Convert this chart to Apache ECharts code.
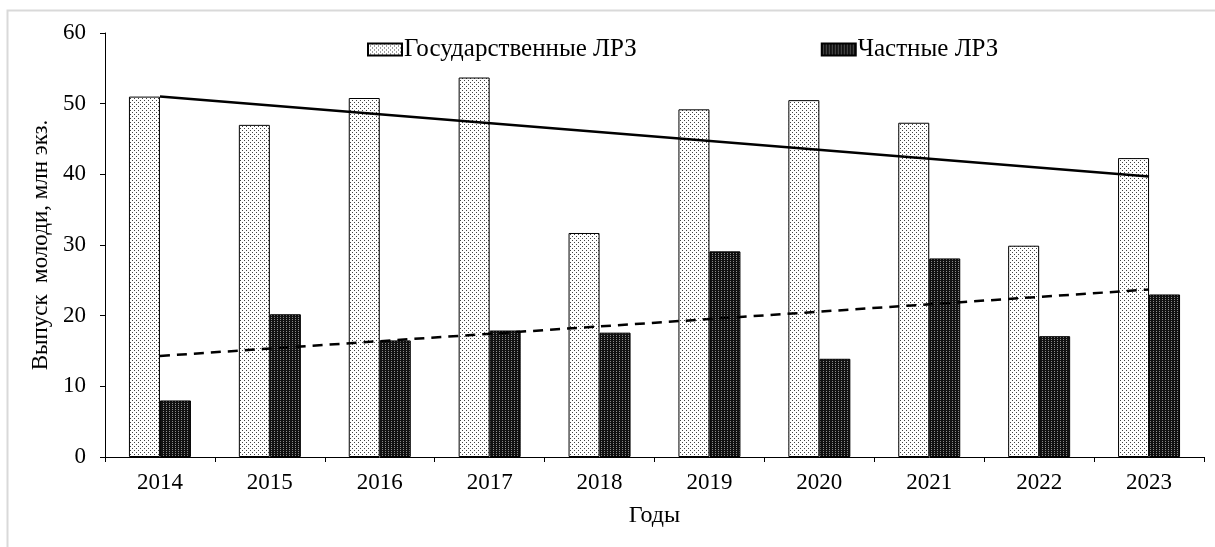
<!DOCTYPE html>
<html>
	<head>
		<meta charset="utf-8">
		<title>Выпуск молоди</title>
		<script src="https://cdn.jsdelivr.net/npm/echarts@6/dist/echarts.min.js"></script>
		<style>
			html, body { margin: 0; padding: 0; background: #fff; }
		</style>
	</head>
	<body>
		<div id="main" style="width: 1215px;height:547px;"></div>
		<script type="text/javascript">
			// данные
			var years = ['2014', '2015', '2016', '2017', '2018', '2019', '2020', '2021', '2022', '2023'];
			var stateVals = [51.0, 47.0, 50.8, 53.7, 31.7, 49.2, 50.5, 47.3, 29.9, 42.3];
			var privateVals = [8.0, 20.2, 16.5, 17.9, 17.6, 29.1, 13.9, 28.1, 17.1, 23.0];
			// линии тренда: значения на концах
			var stateTrend = [51.0, null, null, null, null, null, null, null, null, 39.7];
			var privateTrend = [14.3, null, null, null, null, null, null, null, null, 23.7];
			var yTicks = [0, 10, 20, 30, 40, 50, 60];

			// штриховки
			function dotPattern(bg, fg, w, h, dots) {
				var c = document.createElement('canvas');
				c.width = w;
				c.height = h;
				var ctx = c.getContext('2d');
				ctx.fillStyle = bg;
				ctx.fillRect(0, 0, w, h);
				ctx.fillStyle = fg;
				dots.forEach(function (d) { ctx.fillRect(d[0], d[1], 1, 1); });
				return c;
			}
			var lightFill = { image: dotPattern('#ffffff', '#444444', 4, 4, [[0, 0], [2, 2]]), repeat: 'repeat' };
			var darkFill = { image: dotPattern('#111111', '#8a8a8a', 3, 2, [[1, 1]]), repeat: 'repeat' };

			var font = '"Liberation Serif", "Times New Roman", serif';
			var myChart = echarts.init(document.getElementById('main'));

			option = {
				backgroundColor: '#fff',
				animation: false,
				textStyle: { fontFamily: font, color: '#000' },
				graphic: [{
					type: 'polyline',
					shape: { points: [[7.5, 547], [7.5, 10.5], [1215, 10.5]] },
					style: { stroke: '#d9d9d9', lineWidth: 2, fill: null },
				}],
				legend: {
					top: 32,
					left: 362,
					itemGap: 184,
					itemWidth: 34,
					itemHeight: 12,
					textStyle: { fontFamily: font, fontSize: 25, color: '#000', padding: [0, 0, 0, -3] },
					data: [
						{ name: 'Государственные ЛРЗ', icon: 'rect' },
						{ name: 'Частные ЛРЗ', icon: 'rect' },
					],
				},
				grid: {
					left: 105,
					right: 11,
					top: 33,
					bottom: 90,
				},
				xAxis: {
					type: 'category',
					data: years,
					name: 'Годы',
					nameLocation: 'middle',
					nameGap: 47,
					nameTextStyle: { fontFamily: font, fontSize: 24, color: '#000' },
					axisLine: { lineStyle: { color: '#000', width: 1 } },
					axisTick: { show: true, alignWithLabel: false, length: 5, lineStyle: { color: '#000' } },
					axisLabel: { fontFamily: font, fontSize: 23, color: '#000', margin: 14 },
				},
				yAxis: {
					type: 'value',
					min: yTicks[0],
					max: yTicks[yTicks.length - 1],
					interval: 10,
					name: 'Выпуск  молоди, млн экз.',
					nameLocation: 'middle',
					nameGap: 46,
					nameTextStyle: { fontFamily: font, fontSize: 23, color: '#000' },
					axisLine: { show: true, lineStyle: { color: '#000', width: 1 } },
					axisTick: { show: true, length: 5, lineStyle: { color: '#000' } },
					axisLabel: { fontFamily: font, fontSize: 23, color: '#000', margin: 19 },
					splitLine: { show: false },
				},
				series: [{
						name: 'Государственные ЛРЗ',
						type: 'bar',
						barWidth: 31,
						barGap: '0%',
						itemStyle: { color: lightFill, borderColor: '#000', borderWidth: 1 },
						data: stateVals,
					},
					{
						name: 'Частные ЛРЗ',
						type: 'bar',
						barWidth: 31,
						barGap: '0%',
						itemStyle: { color: darkFill, borderColor: '#000', borderWidth: 1 },
						data: privateVals,
					},
					{
						name: 'trendState',
						type: 'line',
						connectNulls: true,
						symbol: 'none',
						lineStyle: { color: '#000', width: 2.5 },
						data: stateTrend,
						z: 5,
					},
					{
						name: 'trendPrivate',
						type: 'line',
						connectNulls: true,
						symbol: 'none',
						lineStyle: { color: '#000', width: 2.5, type: [10, 7] },
						data: privateTrend,
						z: 5,
					},
				],
			};
			myChart.setOption(option);
		</script>
	</body>
</html>
